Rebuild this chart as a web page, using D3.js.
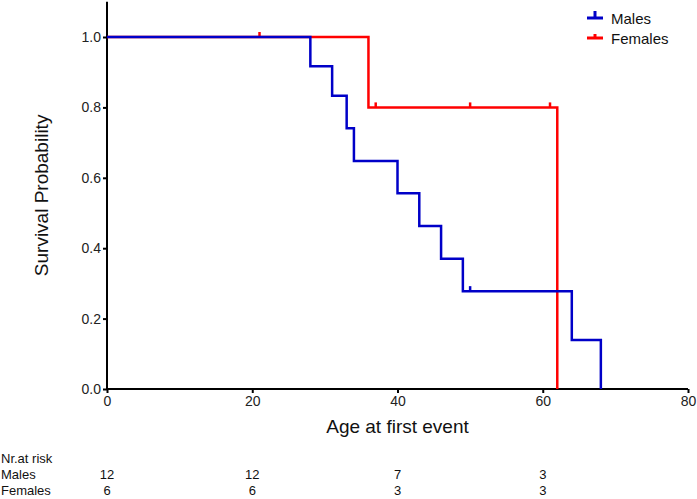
<!DOCTYPE html>
<html><head><meta charset="utf-8">
<script src="https://cdn.jsdelivr.net/npm/d3@7"></script>
<style>body{margin:0;background:#fff}svg{display:block}text{font-family:"Liberation Sans",Arial,sans-serif}</style>
</head><body>
<svg id="c" width="697" height="499"></svg>
<script>
// Data
const maleTimes = [0, 28, 31, 33, 34, 40, 43, 46, 49, 64, 68];
const maleSurv  = [1.0, 0.917, 0.833, 0.741, 0.648, 0.556, 0.463, 0.370, 0.278, 0.139, 0.0];
const maleCensorTimes = [50];
const maleCensorSurv  = [0.278];
const femaleTimes = [0, 36, 62];
const femaleSurv  = [1.0, 0.8, 0.0];
const femaleCensorTimes = [21, 37, 50, 61];
const femaleCensorSurv  = [1.0, 0.8, 0.8, 0.8];
const xTicks = [0, 20, 40, 60, 80];
const yTicks = [0, 0.2, 0.4, 0.6, 0.8, 1.0];
const riskTimes = [0, 20, 40, 60];
const riskMales = [12, 12, 7, 3];
const riskFemales = [6, 6, 3, 3];
const seriesNames = ["Males", "Females"];
const colors = {Males: "#0000c8", Females: "#ff0000"};

const svg = d3.select("#c");
const x = d3.scaleLinear().domain([0, 80]).range([107, 688]);
const y = d3.scaleLinear().domain([0, 1.1]).range([389, 1.8]);

// axes
const gx = svg.append("g").attr("transform", `translate(0,${y(0)})`)
  .call(d3.axisBottom(x).tickValues(xTicks).tickSize(4).tickPadding(3).tickFormat(d3.format("d")));
const gy = svg.append("g").attr("transform", `translate(${x(0)},0)`)
  .call(d3.axisLeft(y).tickValues(yTicks).tickSize(4).tickPadding(2).tickFormat(d3.format(".1f")));
[gx, gy].forEach(g => {
  g.select(".domain").attr("stroke", "#000").attr("stroke-width", 2);
  g.selectAll(".tick line").attr("stroke", "#000").attr("stroke-width", 2);
  g.selectAll(".tick text").attr("fill", "#222").style("font-size", "14px")
   .style("font-family", '"Liberation Sans",Arial,sans-serif');
});
gx.select(".domain").attr("d", `M${x(0)},0H${x(80)}`);
gy.select(".domain").attr("d", `M0,${y(0)}V${y(1.1)}`);

// axis titles
svg.append("text").attr("x", (x(0) + x(80)) / 2).attr("y", 433)
  .attr("text-anchor", "middle").style("font-size", "19px").attr("fill", "#111").text("Age at first event");
svg.append("text").attr("transform", `translate(48,${(y(0) + y(1.1)) / 2}) rotate(-90)`)
  .attr("text-anchor", "middle").style("font-size", "19px").attr("fill", "#111").text("Survival Probability");

const line = d3.line().x(d => x(d[0])).y(d => y(d[1])).curve(d3.curveStepAfter);
function drawSeries(times, surv, cT, cS, color) {
  const pts = times.map((t, i) => [t, surv[i]]);
  svg.append("path").datum(pts).attr("d", line).attr("fill", "none")
    .attr("stroke", color).attr("stroke-width", 2.5).attr("stroke-linejoin", "miter");
  svg.append("g").selectAll("line").data(cT.map((t, i) => [t, cS[i]])).join("line")
    .attr("x1", d => x(d[0])).attr("x2", d => x(d[0]))
    .attr("y1", d => y(d[1])).attr("y2", d => y(d[1]) - 5)
    .attr("stroke", color).attr("stroke-width", 2.5);
}
drawSeries(femaleTimes, femaleSurv, femaleCensorTimes, femaleCensorSurv, colors.Females);
drawSeries(maleTimes, maleSurv, maleCensorTimes, maleCensorSurv, colors.Males);

// legend
const leg = [{name: seriesNames[0], y: 18, h: 7}, {name: seriesNames[1], y: 38, h: 4}];
leg.forEach(l => {
  const c = colors[l.name];
  svg.append("line").attr("x1", 587).attr("x2", 603).attr("y1", l.y).attr("y2", l.y)
    .attr("stroke", c).attr("stroke-width", 3);
  svg.append("line").attr("x1", 595).attr("x2", 595).attr("y1", l.y).attr("y2", l.y - l.h)
    .attr("stroke", c).attr("stroke-width", 3);
  svg.append("text").attr("x", 611).attr("y", l.y + 5.5).style("font-size", "15px")
    .attr("fill", "#111").text(l.name);
});

// risk table
const rt = svg.append("g").style("font-size", "13px").attr("fill", "#111");
rt.append("text").attr("x", 1).attr("y", 463).text("Nr.at risk");
rt.append("text").attr("x", 1).attr("y", 479).text("Males");
rt.append("text").attr("x", 1).attr("y", 495).text("Females");
riskTimes.forEach((t, i) => {
  rt.append("text").attr("x", x(t)).attr("y", 479).attr("text-anchor", "middle").text(riskMales[i]);
  rt.append("text").attr("x", x(t)).attr("y", 495).attr("text-anchor", "middle").text(riskFemales[i]);
});
</script>
</body></html>
